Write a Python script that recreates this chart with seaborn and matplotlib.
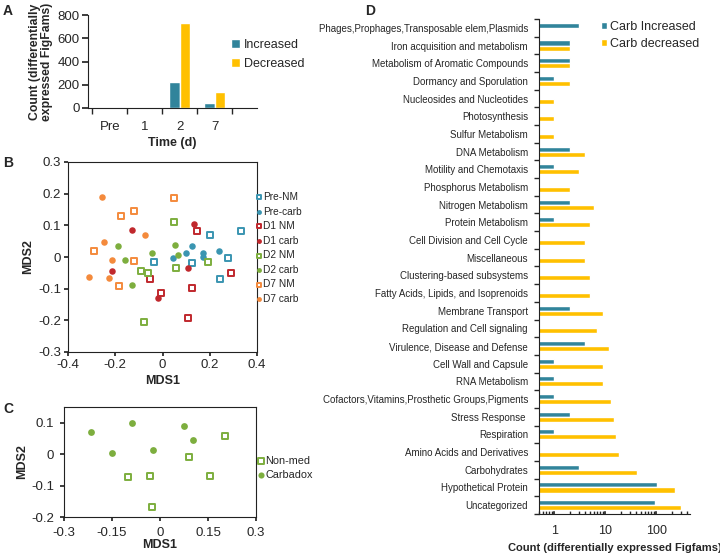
import numpy as np
import pandas as pd
import matplotlib
matplotlib.use('Agg')
import matplotlib.pyplot as plt
import seaborn as sns

# ---- Panel A: counts of differentially expressed FigFams per time point
time_points = ["Pre", "1", "2", "7"]
increased_counts = [0, 0, 225, 45]
decreased_counts = [0, 0, 730, 140]

# ---- Panel B: MDS of all samples
pre_nm_x = [-0.035, 0.126, 0.200, 0.278, 0.244, 0.334]
pre_nm_y = [-0.017, -0.018, 0.068, -0.002, -0.068, 0.083]
pre_carb_x = [0.044, 0.101, 0.126, 0.173, 0.173, 0.238]
pre_carb_y = [-0.002, 0.012, 0.035, 0.014, -0.001, 0.019]
d1_nm_x = [0.146, -0.054, -0.006, 0.126, 0.108, 0.289]
d1_nm_y = [0.083, -0.068, -0.115, -0.098, -0.193, -0.049]
d1_carb_x = [0.132, -0.129, -0.214, 0.109, -0.021]
d1_carb_y = [0.105, 0.086, -0.044, -0.036, -0.130]
d2_nm_x = [0.048, -0.091, -0.061, 0.059, 0.191, -0.078]
d2_nm_y = [0.111, -0.043, -0.049, -0.036, -0.016, -0.205]
d2_carb_x = [-0.190, -0.159, -0.044, 0.054, 0.064, -0.129]
d2_carb_y = [0.035, -0.010, 0.014, 0.037, 0.006, -0.088]
d7_nm_x = [0.050, -0.177, -0.122, -0.290, -0.122, -0.184]
d7_nm_y = [0.186, 0.131, 0.146, 0.019, -0.014, -0.091]
d7_carb_x = [-0.255, -0.072, -0.249, -0.214, -0.309, -0.227]
d7_carb_y = [0.188, 0.071, 0.047, -0.008, -0.062, -0.067]
b_groups = ["Pre-NM", "Pre-carb", "D1 NM", "D1 carb", "D2 NM", "D2 carb", "D7 NM", "D7 carb"]
b_xticklabels = ["-0.4", "-0.2", "0", "0.2", "0.4"]
b_yticklabels = ["-0.3", "-0.2", "-0.1", "0", "0.1", "0.2", "0.3"]

# ---- Panel C: MDS of day 2 samples
nonmed_x = [-0.099, -0.030, -0.024, 0.092, 0.156, 0.202]
nonmed_y = [-0.073, -0.071, -0.168, -0.008, -0.068, 0.058]
carbadox_x = [-0.216, -0.088, -0.151, -0.021, 0.075, 0.102]
carbadox_y = [0.072, 0.098, 0.003, 0.013, 0.090, 0.046]
c_xticklabels = ["-0.3", "-0.15", "0", "0.15", "0.3"]
c_yticklabels = ["-0.2", "-0.1", "0", "0.1"]

# ---- Panel D: functional categories
categories = [
    "Phages,Prophages,Transposable elem,Plasmids",
    "Iron acquisition and metabolism",
    "Metabolism of Aromatic Compounds",
    "Dormancy and Sporulation",
    "Nucleosides and Nucleotides",
    "Photosynthesis",
    "Sulfur Metabolism",
    "DNA Metabolism",
    "Motility and Chemotaxis",
    "Phosphorus Metabolism",
    "Nitrogen Metabolism",
    "Protein Metabolism",
    "Cell Division and Cell Cycle",
    "Miscellaneous",
    "Clustering-based subsystems",
    "Fatty Acids, Lipids, and Isoprenoids",
    "Membrane Transport",
    "Regulation and Cell signaling",
    "Virulence, Disease and Defense",
    "Cell Wall and Capsule",
    "RNA Metabolism",
    "Cofactors,Vitamins,Prosthetic Groups,Pigments",
    "Stress Response ",
    "Respiration",
    "Amino Acids and Derivatives",
    "Carbohydrates",
    "Hypothetical Protein",
    "Uncategorized",
]
carb_increased = [3, 2, 2, 1, 0, 0, 0, 2, 1, 0, 2, 1, 0, 0, 0, 0, 2, 0, 4, 1,
                  1, 1, 2, 1, 0, 3, 105, 93]
carb_decreased = [0, 2, 2, 2, 1, 1, 1, 4, 3, 2, 6, 5, 4, 4, 5, 5, 9, 7, 12, 9,
                  9, 13, 15, 16, 19, 41, 237, 311]
d_xtick_values = [1, 10, 100]
d_xtick_labels = ["1", "10", "100"]

TEAL = "#31849B"
GOLD = "#FFC000"
b_colors = ["#3A95B1", "#3A95B1", "#C0282D", "#C0282D",
            "#7DAE3E", "#7DAE3E", "#F48A3C", "#F48A3C"]
b_markers = ["s", "o", "s", "o", "s", "o", "s", "o"]

sns.set_theme(style="white")
plt.rcParams['font.family'] = ['Liberation Sans', 'DejaVu Sans']
plt.rcParams['axes.edgecolor'] = '#222222'
plt.rcParams['axes.linewidth'] = 0.8

W, H = 720, 554
fig = plt.figure(figsize=(7.2, 5.54), dpi=100)


def px_axes(left, top, right, bottom):
    return fig.add_axes([left / W, 1 - bottom / H, (right - left) / W, (bottom - top) / H])


def draw_point(ax, x, y, color, marker, label, s_sq=20, s_dot=22):
    if marker == "s":
        sns.scatterplot(x=x, y=y, ax=ax, marker="s", s=s_sq, color=color,
                        facecolor="white", edgecolor=color, linewidth=1.4, label=label)
    else:
        sns.scatterplot(x=x, y=y, ax=ax, marker="o", s=s_dot, color=color,
                        edgecolor=color, linewidth=0, label=label)


TICK_FS = 9.5

# ================= Panel A =================
ax_a = px_axes(88, 15, 257, 108)
df_a = pd.DataFrame({
    "time": time_points * 2,
    "count": increased_counts + decreased_counts,
    "direction": ["Increased"] * len(time_points) + ["Decreased"] * len(time_points),
})
sns.barplot(data=df_a, x="time", y="count", hue="direction", palette=[TEAL, GOLD],
            saturation=1, width=0.6, ax=ax_a)
ax_a.set_ylim(0, 800)
ax_a.set_yticks([0, 200, 400, 600, 800])
ax_a.set_xlim(-0.62, 4.2)
ax_a.set_xticks(np.arange(-0.5, len(time_points)), minor=True)
ax_a.tick_params(axis="x", which="major", length=0, labelsize=TICK_FS, pad=9)
ax_a.tick_params(axis="x", which="minor", length=4, direction="out", bottom=True)
ax_a.tick_params(axis="y", length=4, direction="out", left=True, labelsize=TICK_FS, pad=2)
sns.despine(ax=ax_a)
ax_a.set_xlabel("Time (d)", fontsize=9, fontweight="bold", labelpad=3)
ax_a.set_ylabel("Count (differentially\nexpressed FigFams)", fontsize=8.8,
                fontweight="bold", labelpad=3, linespacing=1.05)
ax_a.legend(frameon=False, loc="upper left", bbox_to_anchor=(231 / W, 1 - 39 / H),
            bbox_transform=fig.transFigure, fontsize=9, handlelength=0.7,
            handleheight=0.7, handletextpad=0.3, labelspacing=0.55,
            borderpad=0, borderaxespad=0)

# ================= Panel B =================
ax_b = px_axes(68, 162, 257, 352)
b_xs = [pre_nm_x, pre_carb_x, d1_nm_x, d1_carb_x, d2_nm_x, d2_carb_x, d7_nm_x, d7_carb_x]
b_ys = [pre_nm_y, pre_carb_y, d1_nm_y, d1_carb_y, d2_nm_y, d2_carb_y, d7_nm_y, d7_carb_y]
for gx, gy, col, mk, name in zip(b_xs, b_ys, b_colors, b_markers, b_groups):
    draw_point(ax_b, gx, gy, col, mk, name)
ax_b.set_xlim(-0.4, 0.4)
ax_b.set_ylim(-0.3, 0.3)
ax_b.set_xticks([-0.4, -0.2, 0, 0.2, 0.4])
ax_b.set_xticklabels(b_xticklabels)
ax_b.set_yticks([-0.3, -0.2, -0.1, 0, 0.1, 0.2, 0.3])
ax_b.set_yticklabels(b_yticklabels)
ax_b.tick_params(length=3, direction="out", bottom=True, left=True, labelsize=TICK_FS, pad=2)
ax_b.set_xlabel("MDS1", fontsize=9, fontweight="bold", labelpad=3)
ax_b.set_ylabel("MDS2", fontsize=9, fontweight="bold", labelpad=3)
ax_b.legend(frameon=False, loc="upper left", bbox_to_anchor=(256 / W, 1 - 192 / H),
            bbox_transform=fig.transFigure, fontsize=7.3, handlelength=0.6,
            handletextpad=0.1, labelspacing=0.45, borderpad=0, borderaxespad=0,
            markerscale=0.75)

# ================= Panel C =================
ax_c = px_axes(64, 407, 256, 517)
draw_point(ax_c, nonmed_x, nonmed_y, "#7DAE3E", "s", "Non-med", s_sq=22)
draw_point(ax_c, carbadox_x, carbadox_y, "#7DAE3E", "o", "Carbadox", s_dot=24)
ax_c.set_xlim(-0.3, 0.3)
ax_c.set_ylim(-0.2, 0.15)
ax_c.set_xticks([-0.3, -0.15, 0, 0.15, 0.3])
ax_c.set_xticklabels(c_xticklabels)
ax_c.set_yticks([-0.2, -0.1, 0, 0.1])
ax_c.set_yticklabels(c_yticklabels)
ax_c.tick_params(length=3, direction="out", bottom=True, left=True, labelsize=TICK_FS, pad=4)
ax_c.set_xlabel("MDS1", fontsize=9, fontweight="bold", labelpad=0)
ax_c.set_ylabel("MDS2", fontsize=9, fontweight="bold", labelpad=2)
ax_c.legend(frameon=False, loc="upper left", bbox_to_anchor=(258 / W, 1 - 456 / H),
            bbox_transform=fig.transFigure, fontsize=7.8, handlelength=0.6,
            handletextpad=0.1, labelspacing=0.4, borderpad=0, borderaxespad=0,
            markerscale=0.9)

# ================= Panel D =================
ax_d = px_axes(539, 19, 690, 514)
n = len(categories)
df_d = pd.DataFrame({
    "category": categories * 2,
    "count": carb_increased + carb_decreased,
    "direction": ["Carb Increased"] * n + ["Carb decreased"] * n,
})
df_d = df_d[df_d["count"] > 0]
sns.barplot(data=df_d, y="category", x="count", hue="direction", orient="h",
            order=categories, hue_order=["Carb Increased", "Carb decreased"],
            palette=[TEAL, GOLD], saturation=1, width=0.57, ax=ax_d)
ax_d.set_xscale("log")
ax_d.set_xlim(0.5, 460)
ax_d.set_ylim(n - 0.5, -0.5)
ax_d.set_xticks(d_xtick_values)
ax_d.set_xticklabels(d_xtick_labels)
ax_d.tick_params(axis="x", which="major", length=4, direction="in", bottom=True,
                 labelsize=9, pad=8)
ax_d.tick_params(axis="x", which="minor", length=2, direction="in", bottom=True)
ax_d.set_yticks(np.arange(-0.5, n), minor=True)
ax_d.tick_params(axis="y", which="major", length=0, labelsize=7, pad=8)
ax_d.tick_params(axis="y", which="minor", length=3.5, direction="out", left=True)
sns.despine(ax=ax_d)
ax_d.set_ylabel("")
ax_d.set_xlabel("Count (differentially expressed Figfams)", fontsize=8,
                fontweight="bold", labelpad=4)
ax_d.legend(frameon=False, loc="upper left", bbox_to_anchor=(601 / W, 1 - 21 / H),
            bbox_transform=fig.transFigure, fontsize=9, handlelength=0.5,
            handleheight=0.5, handletextpad=0.25, labelspacing=0.4,
            borderpad=0, borderaxespad=0)

# ---- panel letters
for letter, (lx, ly) in zip("ABCD", [(3, 4), (3, 156), (3, 402), (365, 4)]):
    fig.text(lx / W, 1 - ly / H, letter, fontsize=10, fontweight="bold", va="top", ha="left")

fig.savefig("out.png", dpi=100)
plt.close(fig)
